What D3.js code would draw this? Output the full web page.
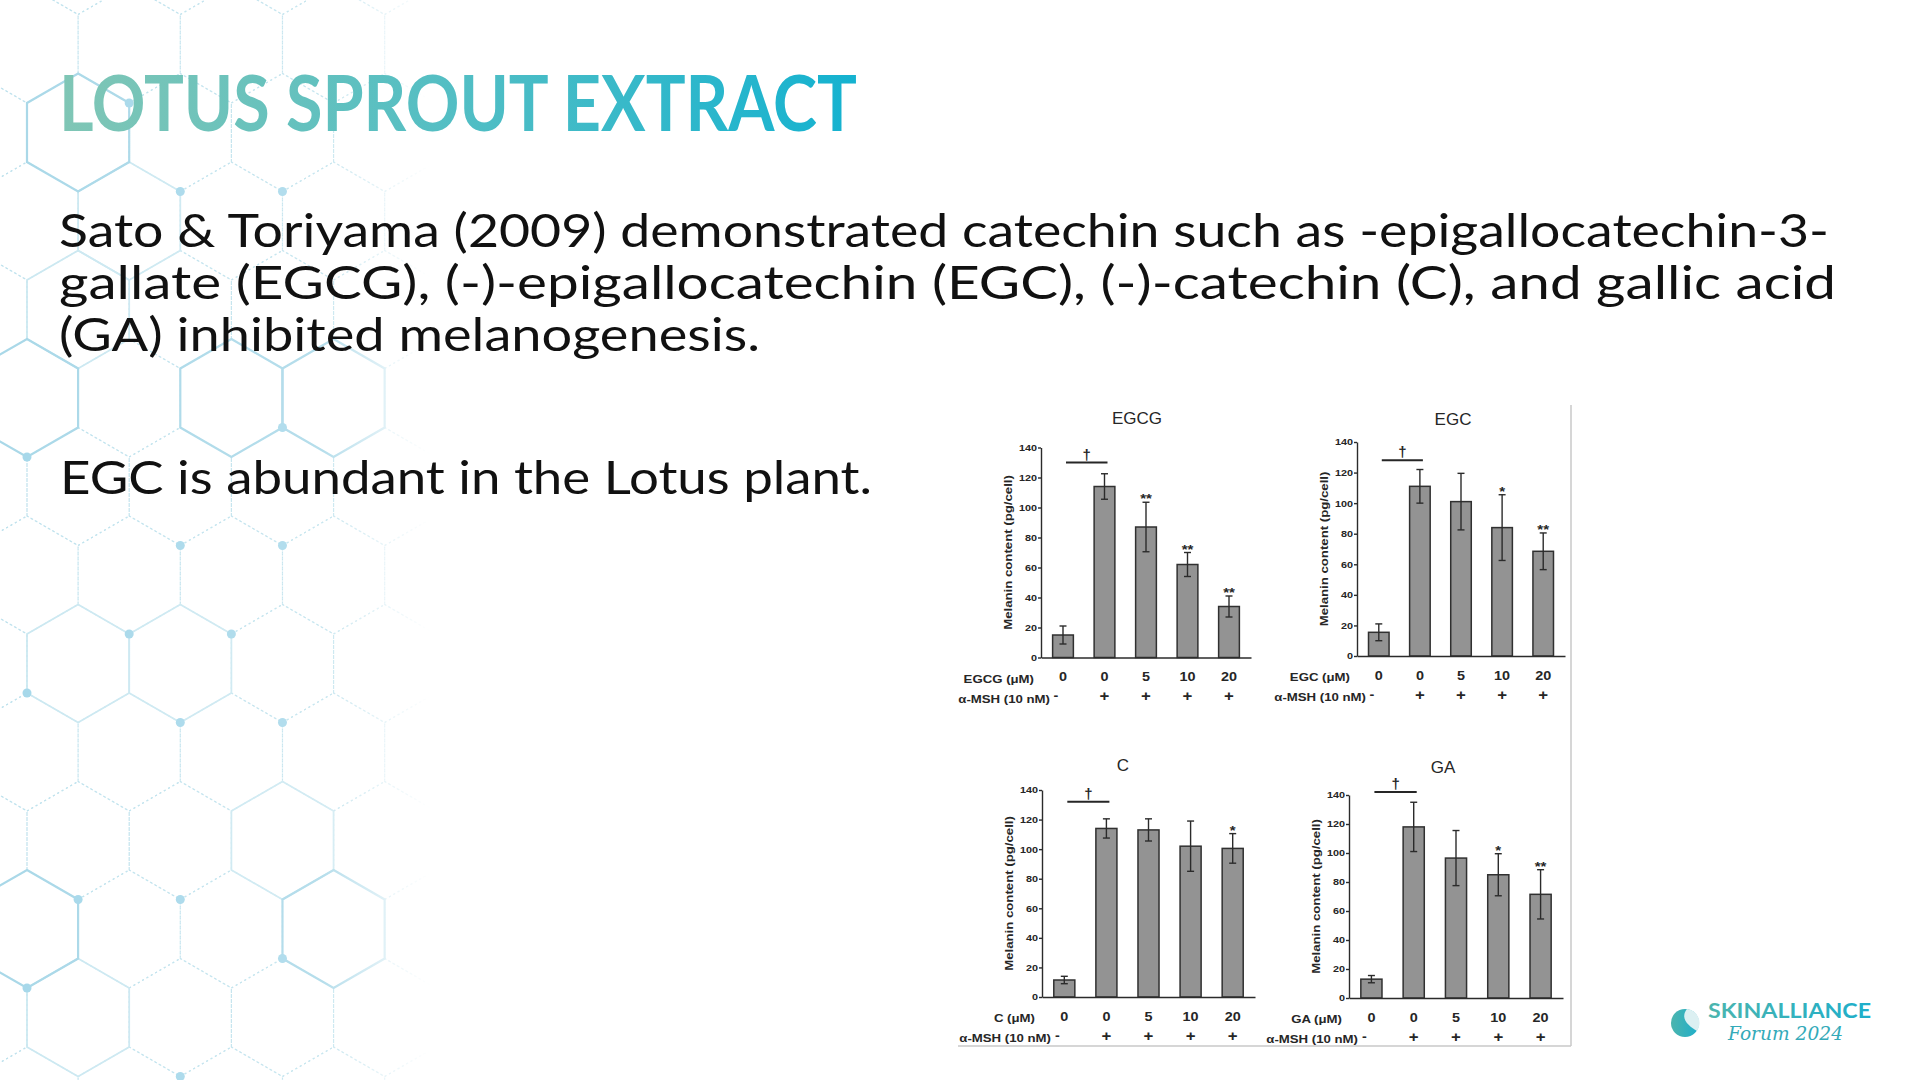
<!DOCTYPE html>
<html>
<head>
<meta charset="utf-8">
<script src="https://cdn.jsdelivr.net/npm/d3@7"></script>
<style>
body { margin: 0; background: #fff; }
svg { display: block; }
.chart text { font-family: "Liberation Sans", Arial, sans-serif; font-weight: bold; fill: #262626; }
.chart .domain, .chart .tick line { stroke: #2b2b2b; stroke-width: 1.4; }
</style>
</head>
<body>
<svg id="slide" width="1920" height="1080"></svg>
<script>
// ---- chart data ----
var compounds = ["EGCG", "EGC", "C", "GA"];
var doses = ["0", "0", "5", "10", "20"];
var mshRow = ["-", "+", "+", "+", "+"];
var yTicks = [0, 20, 40, 60, 80, 100, 120, 140];

var egcgMean = [15, 114, 87, 62, 34];
var egcgErr = [6, 8.5, 16.5, 8, 7];
var egcMean = [15.5, 111, 101, 84, 68.5];
var egcErr = [5.5, 11, 18.5, 21.5, 12];
var cMean = [11.5, 114, 113, 102, 100.5];
var cErr = [2.5, 6.5, 7.5, 17, 10];
var gaMean = [13, 118, 96.5, 85, 71.5];
var gaErr = [2.5, 17, 19, 14.5, 17];

var egcgSig = ["", "", "**", "**", "**"];
var egcSig = ["", "", "", "*", "**"];
var cSig = ["", "", "", "", "*"];
var gaSig = ["", "", "", "*", "**"];
var daggerLevel = [130, 128, 132, 142];

// slide text
var titleText = "LOTUS SPROUT EXTRACT";
var bodyLines = [
    "Sato & Toriyama (2009) demonstrated catechin such as -epigallocatechin-3-",
    "gallate (EGCG), (-)-epigallocatechin (EGC), (-)-catechin (C), and gallic acid",
    "(GA) inhibited melanogenesis."
];
var noteText = "EGC is abundant in the Lotus plant.";

var svg = d3.select("#slide");
var defs = svg.append("defs");

// ---- hexagon background ----
var R = 59, hw = R * Math.sqrt(3) / 2;
var fade = defs.append("linearGradient").attr("id", "fade")
    .attr("gradientUnits", "userSpaceOnUse").attr("x1", 0).attr("x2", 430).attr("y1", 0).attr("y2", 0);
fade.append("stop").attr("offset", "0").attr("stop-color", "#fff");
fade.append("stop").attr("offset", "0.75").attr("stop-color", "#fff").attr("stop-opacity", 0.85);
fade.append("stop").attr("offset", "1").attr("stop-color", "#fff").attr("stop-opacity", 0);
defs.append("mask").attr("id", "hexMask")
    .append("rect").attr("width", 460).attr("height", 1080).attr("fill", "url(#fade)");

// strong outlines and softer outlines, by grid index [column, row]
var solidHex = [[1, -3], [0, 0], [4, 0], [6, 0], [6, 6], [0, 6]];
var softHex = [[1, 3], [3, 3], [2, -2], [1, -1], [5, 5], [1, 7]];
var hexes = [];
function inList(list, k, j) { return list.some(function(s) { return s[0] === k && s[1] === j; }); }
for (var j = -5; j <= 8; j++) {
    for (var k = -1; k <= 9; k++) {
        if ((k - j) % 2 !== 0) continue;
        hexes.push({ cx: 27 + hw * k, cy: 398 + 1.5 * R * j,
            kind: inList(solidHex, k, j) ? "solid" : inList(softHex, k, j) ? "soft" : "dot" });
    }
}
function hexPoints(h) {
    return d3.range(6).map(function(i) {
        var a = (Math.PI / 180) * (60 * i - 90);
        return [h.cx + R * Math.cos(a), h.cy + R * Math.sin(a)];
    });
}
var bg = svg.append("g").attr("mask", "url(#hexMask)");
var hexStyle = {
    dot: { stroke: "#bfe2ed", width: 1.2, dash: "2,3" },
    soft: { stroke: "#cbe8f1", width: 1.8, dash: null },
    solid: { stroke: "#a9d8e8", width: 2.2, dash: null }
};
["dot", "soft", "solid"].forEach(function(kind) {
    bg.selectAll("path.hex-" + kind)
        .data(hexes.filter(function(h) { return h.kind === kind; }))
        .enter().append("path")
        .attr("class", "hex-" + kind)
        .attr("d", function(h) { return "M" + hexPoints(h).join("L") + "Z"; })
        .attr("fill", "none")
        .attr("stroke", hexStyle[kind].stroke)
        .attr("stroke-width", hexStyle[kind].width)
        .attr("stroke-dasharray", hexStyle[kind].dash);
});

var allVerts = [];
hexes.forEach(function(h) { allVerts = allVerts.concat(hexPoints(h)); });
var dotSpots = [[129, 103], [180, 192], [283, 192], [27, 457], [282, 428], [180, 546], [282, 546],
    [129, 634], [231, 634], [27, 749], [180, 722], [282, 722], [78, 841], [180, 841], [27, 987],
    [282, 959], [180, 1074]];
bg.selectAll("circle")
    .data(dotSpots.map(function(s) {
        return allVerts.reduce(function(best, v) {
            return Math.hypot(v[0] - s[0], v[1] - s[1]) < Math.hypot(best[0] - s[0], best[1] - s[1]) ? v : best;
        });
    }))
    .enter().append("circle")
    .attr("cx", function(d) { return d[0]; })
    .attr("cy", function(d) { return d[1]; })
    .attr("r", 4.5)
    .attr("fill", "#a6d8ea");

// ---- title and text ----
var tg = defs.append("linearGradient").attr("id", "titleGrad");
tg.append("stop").attr("offset", "0").attr("stop-color", "#80c6b5");
tg.append("stop").attr("offset", "0.5").attr("stop-color", "#52bec4");
tg.append("stop").attr("offset", "1").attr("stop-color", "#14b2d0");

svg.append("text")
    .attr("x", 59).attr("y", 131)
    .attr("textLength", 798).attr("lengthAdjust", "spacingAndGlyphs")
    .style("font-family", "Lato, 'Open Sans', sans-serif")
    .style("font-weight", 700)
    .style("font-size", "76px")
    .attr("fill", "url(#titleGrad)")
    .text(titleText);

var bodyLen = [1770, 1777, 701];
svg.selectAll("text.body")
    .data(bodyLines)
    .enter().append("text")
    .attr("class", "body")
    .attr("x", 59)
    .attr("y", function(d, i) { return 247 + i * 52; })
    .attr("textLength", function(d, i) { return bodyLen[i]; })
    .attr("lengthAdjust", "spacingAndGlyphs")
    .style("font-family", "Lato, 'Open Sans', sans-serif")
    .style("font-size", "47px")
    .attr("fill", "#111")
    .text(function(d) { return d; });

svg.append("text")
    .attr("x", 60).attr("y", 494)
    .attr("textLength", 812).attr("lengthAdjust", "spacingAndGlyphs")
    .style("font-family", "Lato, 'Open Sans', sans-serif")
    .style("font-size", "47px")
    .attr("fill", "#111")
    .text(noteText);

// ---- figure panels ----
var panels = [
    { name: compounds[0], mean: egcgMean, err: egcgErr, sig: egcgSig, dag: daggerLevel[0],
      x0: 1041, x1: 1251, yTop: 447.5, yZero: 657.5, tx: 1137, ty: 424 },
    { name: compounds[1], mean: egcMean, err: egcErr, sig: egcSig, dag: daggerLevel[1],
      x0: 1357, x1: 1565, yTop: 442, yZero: 656, tx: 1453, ty: 425 },
    { name: compounds[2], mean: cMean, err: cErr, sig: cSig, dag: daggerLevel[2],
      x0: 1042, x1: 1255, yTop: 790, yZero: 997, tx: 1123, ty: 771 },
    { name: compounds[3], mean: gaMean, err: gaErr, sig: gaSig, dag: daggerLevel[3],
      x0: 1349, x1: 1563, yTop: 795, yZero: 998, tx: 1443, ty: 773 }
];

var chart = svg.append("g").attr("class", "chart");

// thin frame of the scanned figure
chart.append("line").attr("x1", 1571).attr("x2", 1571).attr("y1", 405).attr("y2", 1046)
    .attr("stroke", "#c9c9c9").attr("stroke-width", 1.5);
chart.append("line").attr("x1", 958).attr("x2", 1571).attr("y1", 1046).attr("y2", 1046)
    .attr("stroke", "#c9c9c9").attr("stroke-width", 1.5);

panels.forEach(function(p) {
    var g = chart.append("g");
    var x = d3.scaleBand().domain(d3.range(doses.length)).range([p.x0, p.x1])
        .paddingInner(0.5).paddingOuter(0.28);
    var y = d3.scaleLinear().domain([0, 140]).range([p.yZero, p.yTop]);
    var cx = function(i) { return x(i) + x.bandwidth() / 2; };

    g.append("text")
        .attr("x", p.tx).attr("y", p.ty)
        .attr("text-anchor", "middle")
        .style("font-size", "17px").style("font-weight", "normal")
        .text(p.name);

    // bars
    g.selectAll("rect")
        .data(p.mean)
        .enter().append("rect")
        .attr("x", function(d, i) { return x(i); })
        .attr("y", function(d) { return y(d); })
        .attr("width", x.bandwidth())
        .attr("height", function(d) { return y(0) - y(d); })
        .attr("fill", "#939393")
        .attr("stroke", "#303030")
        .attr("stroke-width", 1.5);

    // error bars
    var eb = g.selectAll("g.err")
        .data(p.mean)
        .enter().append("g").attr("class", "err");
    eb.append("line")
        .attr("x1", function(d, i) { return cx(i); })
        .attr("x2", function(d, i) { return cx(i); })
        .attr("y1", function(d, i) { return y(d + p.err[i]); })
        .attr("y2", function(d, i) { return y(d - p.err[i]); });
    eb.append("line")
        .attr("x1", function(d, i) { return cx(i) - 3.5; })
        .attr("x2", function(d, i) { return cx(i) + 3.5; })
        .attr("y1", function(d, i) { return y(d + p.err[i]); })
        .attr("y2", function(d, i) { return y(d + p.err[i]); });
    eb.append("line")
        .attr("x1", function(d, i) { return cx(i) - 3.5; })
        .attr("x2", function(d, i) { return cx(i) + 3.5; })
        .attr("y1", function(d, i) { return y(d - p.err[i]); })
        .attr("y2", function(d, i) { return y(d - p.err[i]); });
    eb.selectAll("line").attr("stroke", "#2b2b2b").attr("stroke-width", 1.4);

    // significance marks
    g.selectAll("text.sig")
        .data(p.mean)
        .enter().append("text")
        .attr("class", "sig wide")
        .attr("x", function(d, i) { return cx(i); })
        .attr("y", function(d, i) { return y(d + p.err[i]) + 1; })
        .attr("text-anchor", "middle")
        .style("font-size", "12.5px")
        .text(function(d, i) { return p.sig[i]; });

    // dagger bracket between control groups
    g.append("line")
        .attr("x1", cx(0) + 3).attr("x2", cx(1) + 3)
        .attr("y1", y(p.dag)).attr("y2", y(p.dag))
        .attr("stroke", "#262626").attr("stroke-width", 2);
    g.append("text")
        .attr("x", (cx(0) + cx(1)) / 2 + 3).attr("y", y(p.dag) - 3)
        .attr("text-anchor", "middle")
        .style("font-size", "15px")
        .text("\u2020");

    // axes
    g.append("g")
        .attr("transform", "translate(" + p.x0 + ",0)")
        .call(d3.axisLeft(y).tickValues(yTicks).tickSize(3).tickSizeOuter(0).tickPadding(1))
        .call(function(a) { a.selectAll("text").attr("class", "wide").style("font-size", "9px"); });

    g.append("g")
        .attr("transform", "translate(0," + p.yZero + ")")
        .call(d3.axisBottom(x).tickSize(0).tickSizeOuter(0).tickPadding(15)
            .tickFormat(function(i) { return doses[i]; }))
        .call(function(a) { a.selectAll("text").attr("class", "wide").style("font-size", "12px"); });

    g.append("g")
        .attr("transform", "translate(0," + p.yZero + ")")
        .call(d3.axisBottom(x).tickSize(0).tickSizeOuter(0).tickPadding(34)
            .tickFormat(function(i) { return mshRow[i]; }))
        .call(function(a) {
            a.select(".domain").remove();
            a.selectAll("text").attr("class", "wide")
                .style("font-size", function(i) { return mshRow[i] === "+" ? "14px" : "12px"; })
                .attr("dx", function(i) { return mshRow[i] === "-" ? -7 : 0; });
        });

    // row captions and y title
    g.append("text")
        .attr("class", "wide")
        .attr("x", p.x0 - 7).attr("y", p.yZero + 25)
        .attr("text-anchor", "end")
        .style("font-size", "11px")
        .text(p.name + " (\u03BCM)");
    g.append("text")
        .attr("class", "wide")
        .attr("x", p.x0 + 9).attr("y", p.yZero + 45)
        .attr("text-anchor", "end")
        .style("font-size", "11px")
        .text("\u03B1-MSH (10 nM)");
    g.append("text")
        .attr("class", "wide")
        .attr("transform", "translate(" + (p.x0 - 29) + "," + (p.yTop + p.yZero) / 2 + ") rotate(-90)")
        .attr("text-anchor", "middle")
        .style("font-size", "11px")
        .text("Melanin content (pg/cell)");
});

// the scanned figure's lettering is slightly stretched sideways
chart.selectAll("text.wide").each(function() {
    var w = this.getComputedTextLength();
    if (w > 0) d3.select(this).attr("textLength", w * 1.2).attr("lengthAdjust", "spacingAndGlyphs");
});

// ---- logo ----
var lg = defs.append("linearGradient").attr("id", "logoGrad");
lg.append("stop").attr("offset", "0").attr("stop-color", "#4cb5ae");
lg.append("stop").attr("offset", "1").attr("stop-color", "#1eaecb");
var logo = svg.append("g");
logo.append("circle").attr("cx", 1685).attr("cy", 1023).attr("r", 14).attr("fill", "url(#logoGrad)");
logo.append("path")
    .attr("d", "M1687,1009 A14,14 0 0,1 1697,1031 C1690,1027 1679,1019 1687,1009 Z")
    .attr("fill", "#dcf0f2");
logo.append("text")
    .attr("x", 1708).attr("y", 1018)
    .attr("textLength", 163).attr("lengthAdjust", "spacingAndGlyphs")
    .style("font-family", "Lato, sans-serif").style("font-weight", 700).style("font-size", "21px")
    .attr("fill", "url(#logoGrad)")
    .text("SKINALLIANCE");
logo.append("text")
    .attr("x", 1728).attr("y", 1040)
    .attr("textLength", 115).attr("lengthAdjust", "spacingAndGlyphs")
    .style("font-family", "'DejaVu Serif', serif").style("font-style", "italic").style("font-size", "19px")
    .attr("fill", "#34aab9")
    .text("Forum 2024");
</script>
</body>
</html>
